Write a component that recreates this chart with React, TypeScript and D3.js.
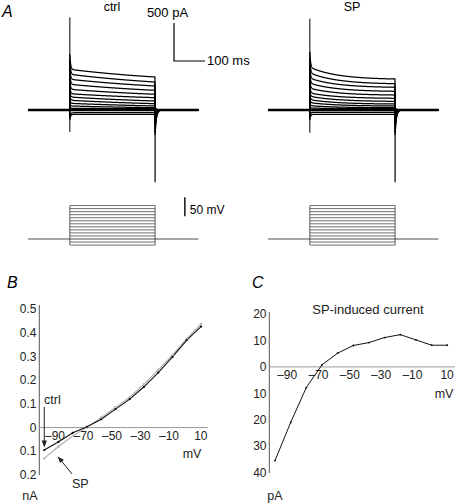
import React from "react";
import * as d3 from "d3";

// ---------- Panel A: voltage-clamp traces ----------
const stepLevelsMv = [-96, -88, -80, -72, -64, -56, -48, -40, -32, -24, -16, -8, 0, 8];
const holdingMv = -80;
const ctrlStartPa = [-57, -36, 0, 22, 53, 88, 128, 171, 214, 272, 338, 404, 470, 535];
const ctrlEndPa = [-57, -36, 0, 17, 30, 53, 83, 118, 162, 207, 259, 316, 368, 434];
const spStartPa = [-57, -30, 0, 26, 57, 96, 136, 180, 224, 286, 351, 417, 487, 562];
const spEndPa = [-57, -30, 0, 17, 30, 53, 79, 114, 154, 197, 246, 299, 346, 408];
const onsetTransientPa = [-70, -45, 0, 15, 30, 45, 60, 80, 100, 120, 140, 160, 180, 200];
const tailPa = [40, 25, 0, -15, -35, -55, -80, -110, -140, -175, -210, -250, -290, -330];
const ctrlSpikeOnPa = [1220, -290];
const ctrlSpikeOffPa = [60, -950];
const spSpikeOnPa = [1200, -300];
const spSpikeOffPa = [60, -950];
const stepOnMs = 135;
const stepOffMs = 410;
const sweepEndMs = 550;

// ---------- Panel B: I-V ----------
const ivVoltage = [-100, -90, -80, -70, -60, -50, -40, -30, -20, -10, 0, 10];
const ivCtrl = [-0.095, -0.06, -0.022, 0.003, 0.035, 0.078, 0.12, 0.172, 0.232, 0.298, 0.369, 0.426];
const ivSP = [-0.13, -0.08, -0.035, 0.002, 0.042, 0.085, 0.128, 0.183, 0.243, 0.306, 0.375, 0.437];
const ivYTicks = [0.5, 0.4, 0.3, 0.2, 0.1, 0, -0.1, -0.2];
const ivXTicks = [-90, -70, -50, -30, -10, 10];

// ---------- Panel C: SP-induced current ----------
const diffVoltage = [-100, -90, -80, -70, -60, -50, -40, -30, -20, -10, 0, 10];
const diffCurrent = [-35.4, -21, -7.8, 0.8, 5.2, 8.1, 9.2, 11.1, 12.2, 10.2, 8.2, 8.2];
const diffYTicks = [20, 10, 0, -10, -20, -30, -40];
const diffXTicks = [-90, -70, -50, -30, -10, 10];

const FONT = "'Liberation Sans', Arial, Helvetica, sans-serif";
const TICK_FS = 12;
const LABEL_FS = 12.5;

function fmtMinus(v: number) {
  return v < 0 ? "\u2013" + Math.abs(v) : String(v);
}

function tracePath(
  x: d3.ScaleLinear<number, number>,
  y: d3.ScaleLinear<number, number>,
  start: number,
  end: number,
  fast: number,
  tail: number,
  tau: number
) {
  const pts: [number, number][] = [];
  const D = stepOffMs - stepOnMs;
  const norm = 1 - Math.exp(-D / tau);
  for (let t = 0; t <= sweepEndMs; t += 0.5) {
    let v = 0;
    if (t >= stepOnMs && t < stepOffMs) {
      const s = t - stepOnMs;
      v = end + ((start - end) * (Math.exp(-s / tau) - Math.exp(-D / tau))) / norm + fast * Math.exp(-s / 2.5);
    } else if (t >= stepOffMs) {
      v = tail * Math.exp(-(t - stepOffMs) / 4);
    }
    pts.push([x(t), y(v)]);
  }
  return d3.line()(pts) || "";
}

function CurrentPanel({
  dx,
  starts,
  ends,
  tau,
  spikeOn,
  spikeOff,
  title,
}: {
  dx: number;
  starts: number[];
  ends: number[];
  tau: number;
  spikeOn: number[];
  spikeOff: number[];
  title: string;
}) {
  const x = d3.scaleLinear().domain([0, sweepEndMs]).range([28 + dx, 198.5 + dx]);
  const y = d3.scaleLinear().domain([0, 500]).range([110, 72]);
  const yV = d3.scaleLinear().domain([-80, -30]).range([239, 220]);
  const vMin = d3.min(stepLevelsMv) as number;
  const vMax = d3.max(stepLevelsMv) as number;
  return (
    <g>
      <text x={x((stepOnMs + stepOffMs) / 2) - 0.5} y={11} fontSize={LABEL_FS} textAnchor="middle" fontFamily={FONT}>
        {title}
      </text>
      {starts.map((s, i) => (
        <path
          key={i}
          d={tracePath(x, y, s, ends[i], onsetTransientPa[i], tailPa[i], tau)}
          fill="none"
          stroke="#000"
          strokeWidth={i === 2 ? 2.4 : 1.25}
        />
      ))}
      <line x1={x(stepOnMs)} x2={x(stepOnMs)} y1={y(spikeOn[0])} y2={y(spikeOn[1])} stroke="#000" strokeWidth={1} />
      <line x1={x(stepOffMs)} x2={x(stepOffMs)} y1={y(spikeOff[0])} y2={y(spikeOff[1])} stroke="#000" strokeWidth={1.2} />
      {/* voltage protocol */}
      <line x1={x(0)} x2={x(sweepEndMs)} y1={yV(holdingMv)} y2={yV(holdingMv)} stroke="#222" strokeWidth={0.8} />
      {stepLevelsMv
        .filter((lv) => lv !== holdingMv)
        .map((lv, i) => (
          <line
            key={"v" + i}
            x1={x(stepOnMs)}
            x2={x(stepOffMs)}
            y1={yV(lv)}
            y2={yV(lv)}
            stroke="#333"
            strokeWidth={0.7}
          />
        ))}
      <line x1={x(stepOnMs)} x2={x(stepOnMs)} y1={yV(vMin)} y2={yV(vMax)} stroke="#333" strokeWidth={0.8} />
      <line x1={x(stepOffMs)} x2={x(stepOffMs)} y1={yV(vMin)} y2={yV(vMax)} stroke="#333" strokeWidth={0.8} />
    </g>
  );
}

export default function App() {
  // Scale bars (share panel A scales)
  const xA = d3.scaleLinear().domain([0, sweepEndMs]).range([28, 198.5]);
  const yA = d3.scaleLinear().domain([0, 500]).range([110, 72]);
  const yV = d3.scaleLinear().domain([-80, -30]).range([239, 220]);

  // Panel B
  const xB = d3.scaleLinear().domain([-100, 10]).range([44.3, 201]);
  const yB = d3.scaleLinear().domain([-0.2, 0.5]).range([475, 309]);
  const lineB = d3
    .line<number>()
    .x((_, i) => xB(ivVoltage[i]))
    .y((d) => yB(d));

  // Panel C
  const xC = d3.scaleLinear().domain([-100, 10]).range([275, 447.3]);
  const yC = d3.scaleLinear().domain([-40, 20]).range([472.7, 314]);
  const lineC = d3
    .line<number>()
    .x((_, i) => xC(diffVoltage[i]))
    .y((d) => yC(d));

  const ctrlTip: [number, number] = [xB(-100), yB(ivCtrl[0]) - 2.5];
  const spTip: [number, number] = [xB(-90) - 1, yB(ivSP[1]) + 10];

  return (
    <svg
      width={457}
      height={503}
      style={{ position: "absolute", left: 0, top: 0, background: "#fff" }}
      fontFamily={FONT}
    >
      <rect width={457} height={503} fill="#fff" />
      {/* Panel labels */}
      <text x={2} y={17} fontSize={16} fontStyle="italic">A</text>
      <text x={7} y={288} fontSize={16} fontStyle="italic">B</text>
      <text x={252} y={288} fontSize={16} fontStyle="italic">C</text>

      <CurrentPanel dx={0} starts={ctrlStartPa} ends={ctrlEndPa} tau={400} spikeOn={ctrlSpikeOnPa} spikeOff={ctrlSpikeOffPa} title="ctrl" />
      <CurrentPanel dx={240} starts={spStartPa} ends={spEndPa} tau={90} spikeOn={spSpikeOnPa} spikeOff={spSpikeOffPa} title="SP" />

      {/* current/time scale bar */}
      <path
        d={`M${xA(471)},${yA(1145)}V${yA(645)}H${xA(471) + (xA(100) - xA(0))}`}
        fill="none"
        stroke="#000"
        strokeWidth={1.2}
      />
      <text x={167.5} y={17} fontSize={13} textAnchor="middle">500 pA</text>
      <text x={xA(471) + (xA(100) - xA(0)) + 2} y={65} fontSize={13}>100 ms</text>

      {/* voltage scale bar */}
      <line x1={xA(506)} x2={xA(506)} y1={yV(30)} y2={yV(-20)} stroke="#000" strokeWidth={1.4} />
      <text x={xA(506) + 5} y={214} fontSize={12}>50 mV</text>

      {/* ---------- Panel B ---------- */}
      <line x1={39.3} x2={39.3} y1={305} y2={475} stroke="#555" strokeWidth={1} />
      <line x1={39.3} x2={208} y1={yB(0)} y2={yB(0)} stroke="#999" strokeWidth={1} />
      {ivYTicks.map((t) => (
        <text key={t} x={36.5} y={yB(t)} dy="0.35em" fontSize={TICK_FS} textAnchor="end" fill="#222">
          {t === 0 ? "0" : Math.abs(t).toFixed(1)}
        </text>
      ))}
      {ivXTicks.map((t) => (
        <text key={t} x={xB(t) + 6.5} y={440} fontSize={TICK_FS} textAnchor="end" fill="#222">
          {fmtMinus(t)}
        </text>
      ))}
      <path d={lineB(ivSP) || ""} fill="none" stroke="#aaa" strokeWidth={1.1} />
      <path d={lineB(ivCtrl) || ""} fill="none" stroke="#111" strokeWidth={1.1} />
      {ivSP.map((d, i) => (
        <rect key={"s" + i} x={xB(ivVoltage[i]) - 1.2} y={yB(d) - 1.2} width={2.4} height={2.4} fill="#bbb" />
      ))}
      {ivCtrl.map((d, i) => (
        <circle key={"c" + i} cx={xB(ivVoltage[i])} cy={yB(d)} r={1.1} fill="#000" />
      ))}
      <text x={192} y={458} fontSize={LABEL_FS} textAnchor="middle" fill="#222">mV</text>
      <text x={30} y={500} fontSize={LABEL_FS} textAnchor="middle" fill="#222">nA</text>
      <text x={44} y={404} fontSize={LABEL_FS} fill="#222">ctrl</text>
      <line x1={ctrlTip[0]} x2={ctrlTip[0]} y1={407} y2={ctrlTip[1] - 6} stroke="#444" strokeWidth={1.2} />
      <path
        d={`M${ctrlTip[0]},${ctrlTip[1]}L${ctrlTip[0] - 2.6},${ctrlTip[1] - 7}L${ctrlTip[0] + 2.6},${ctrlTip[1] - 7}Z`}
        fill="#222"
      />
      <text x={72} y={488} fontSize={LABEL_FS} fill="#222">SP</text>
      <line x1={72} y1={474} x2={spTip[0] + 4} y2={spTip[1] + 4.6} stroke="#222" strokeWidth={1} />
      <path
        d={`M${spTip[0]},${spTip[1]}L${spTip[0] + 6.3},${spTip[1] + 3.2}L${spTip[0] + 2.6},${spTip[1] + 6.5}Z`}
        fill="#222"
      />

      {/* ---------- Panel C ---------- */}
      <text x={368} y={314} fontSize={13} textAnchor="middle" fill="#222">SP-induced current</text>
      <line x1={269.3} x2={269.3} y1={312} y2={473} stroke="#555" strokeWidth={1} />
      <line x1={269.3} x2={455} y1={yC(0)} y2={yC(0)} stroke="#999" strokeWidth={1} />
      {diffYTicks.map((t) => (
        <text key={t} x={266.5} y={yC(t)} dy="0.35em" fontSize={TICK_FS} textAnchor="end" fill="#222">
          {Math.abs(t)}
        </text>
      ))}
      {diffXTicks.map((t) => (
        <text key={t} x={xC(t) + 6.5} y={379} fontSize={TICK_FS} textAnchor="end" fill="#222">
          {fmtMinus(t)}
        </text>
      ))}
      <path d={lineC(diffCurrent) || ""} fill="none" stroke="#111" strokeWidth={1} />
      {diffCurrent.map((d, i) => (
        <circle key={"d" + i} cx={xC(diffVoltage[i])} cy={yC(d)} r={0.9} fill="#000" />
      ))}
      <text x={444} y={398} fontSize={LABEL_FS} textAnchor="middle" fill="#222">mV</text>
      <text x={275} y={500} fontSize={LABEL_FS} textAnchor="middle" fill="#222">pA</text>
    </svg>
  );
}
